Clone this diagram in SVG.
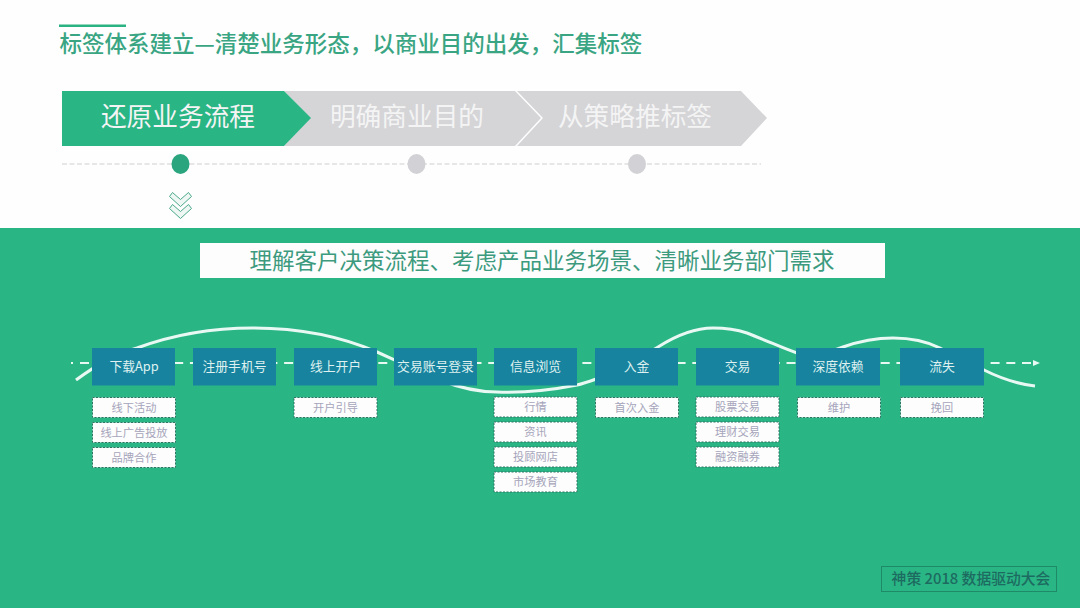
<svg xmlns="http://www.w3.org/2000/svg" width="1080" height="608" viewBox="0 0 1080 608">
<style>
text{font-family:"Noto Sans CJK SC","Noto Sans",sans-serif;text-anchor:middle}
.n rect{fill:#17839f}
.n text{fill:#dff1f0;font-size:12.8px}
.s rect{fill:#fdfdfd;stroke:#2f7362;stroke-width:1;stroke-dasharray:2 1.5}
.s text{fill:#a6a5bb;font-size:11.2px}
.step{font-size:25.7px;fill:#f4f4f4}
.curve{fill:none;stroke:#e8f8f3;stroke-width:3}
.chev{fill:#eef7f3;stroke:#4ba98c;stroke-width:1}
</style>
<rect width="1080" height="608" fill="#fefefe"/>
<rect y="228" width="1080" height="380" fill="#2ab585"/>
<g id="title">
<rect x="59" y="24.500" width="67" height="2.500" fill="#2bb282"/>
<text x="351" y="52" style="font-size:22.5px;fill:#3aa583;font-weight:500">标签体系建立—清楚业务形态，以商业目的出发，汇集标签</text>
</g>
<g id="step3"><polygon points="517,91 741,91 767,118 741,146 517,146 543,118" fill="#d5d5d8"/><text class="step" x="635" y="126">从策略推标签</text></g>
<g id="step2"><polygon points="284,91 515,91 541,118 515,146 284,146 310,118" fill="#d5d5d8"/><text class="step" x="407" y="126">明确商业目的</text></g>
<g id="step1"><polygon points="62,91 284,91 311,118 284,146 62,146" fill="#2ab585"/><text class="step" x="178" y="126">还原业务流程</text></g>
<g id="timeline">
<line x1="62" y1="164" x2="761" y2="164" stroke="#cfcfd2" stroke-width="1" stroke-dasharray="5 2.500"/>
<ellipse cx="180.500" cy="164" rx="9" ry="10" fill="#2ba57d"/>
<ellipse cx="416.500" cy="164" rx="9" ry="10" fill="#d2d2d6"/>
<ellipse cx="637" cy="164" rx="9" ry="10" fill="#d2d2d6"/>
<polygon class="chev" points="169.500,196.500 172.500,192.500 180.500,199.500 188.500,192.500 191.500,196.500 180.500,206.500"/>
<polygon class="chev" points="169.500,208.500 172.500,204.500 180.500,211.500 188.500,204.500 191.500,208.500 180.500,218.500"/>
</g>
<g id="banner">
<rect x="200" y="243" width="685" height="35" fill="#fdfdfd"/>
<text x="542" y="269" style="font-size:22.5px;fill:#3c9a7e">理解客户决策流程、考虑产品业务场景、清晰业务部门需求</text>
</g>
<g id="connectors">
<path class="curve" d="M76 380C95 366 115 354 137 348C175 334 215 328 253 328C300 328 340 336 377 352L410 367"/>
<path class="curve" d="M440 380C460 388 480 392 497 392C525 393 552 390 577 385C590 382 605 376 625 368C640 360 645 354 658 347C680 333 698 328 713 328C728 328 738 330 747 333C770 342 785 349 797 353C815 357 830 352 843 347C860 341 875 338 893 338C915 338 928 342 940 348C955 356 970 364 984 370C1000 378 1018 384 1035 386"/>
<line x1="71" y1="363" x2="73" y2="363" stroke="#e8f8f3" stroke-width="2"/>
<line x1="80" y1="363" x2="1034" y2="363" stroke="#e8f8f3" stroke-width="2" stroke-dasharray="9 6.700"/>
<path d="M1033 360L1040 363L1033 366Z" fill="#e8f8f3"/>
</g>
<g class="n" id="node1"><rect x="92" y="348" width="83" height="37.500"/><text x="134" y="371">下载App</text></g>
<g class="n" id="node2"><rect x="193" y="348" width="83" height="37.500"/><text x="234.500" y="371">注册手机号</text></g>
<g class="n" id="node3"><rect x="294" y="348" width="83" height="37.500"/><text x="335.500" y="371">线上开户</text></g>
<g class="n" id="node4"><rect x="394" y="348" width="83" height="37.500"/><text x="435.500" y="371">交易账号登录</text></g>
<g class="n" id="node5"><rect x="494" y="348" width="83" height="37.500"/><text x="535.500" y="371">信息浏览</text></g>
<g class="n" id="node6"><rect x="595" y="348" width="83" height="37.500"/><text x="636.500" y="371">入金</text></g>
<g class="n" id="node7"><rect x="696" y="348" width="83" height="37.500"/><text x="737.500" y="371">交易</text></g>
<g class="n" id="node8"><rect x="796" y="348" width="84" height="37.500"/><text x="838" y="371">深度依赖</text></g>
<g class="n" id="node9"><rect x="900" y="348" width="84" height="37.500"/><text x="942" y="371">流失</text></g>
<g class="s" id="sub1"><rect x="92.500" y="397.500" width="83" height="20"/><text x="134" y="411.500">线下活动</text></g>
<g class="s" id="sub2"><rect x="92.500" y="422.500" width="83" height="20"/><text x="134" y="436.500">线上广告投放</text></g>
<g class="s" id="sub3"><rect x="92.500" y="447.500" width="83" height="20"/><text x="134" y="461.500">品牌合作</text></g>
<g class="s" id="sub4"><rect x="294" y="397.500" width="83" height="20"/><text x="335.500" y="411.500">开户引导</text></g>
<g class="s" id="sub5"><rect x="494" y="397" width="83" height="20"/><text x="535.500" y="411">行情</text></g>
<g class="s" id="sub6"><rect x="494" y="422" width="83" height="20"/><text x="535.500" y="436">资讯</text></g>
<g class="s" id="sub7"><rect x="494" y="447" width="83" height="20"/><text x="535.500" y="461">投顾网店</text></g>
<g class="s" id="sub8"><rect x="494" y="472" width="83" height="20"/><text x="535.500" y="486">市场教育</text></g>
<g class="s" id="sub9"><rect x="595.500" y="397.500" width="83" height="20"/><text x="637" y="411.500">首次入金</text></g>
<g class="s" id="sub10"><rect x="696" y="397" width="83" height="20"/><text x="737.500" y="411">股票交易</text></g>
<g class="s" id="sub11"><rect x="696" y="422" width="83" height="20"/><text x="737.500" y="436">理财交易</text></g>
<g class="s" id="sub12"><rect x="696" y="447" width="83" height="20"/><text x="737.500" y="461">融资融券</text></g>
<g class="s" id="sub13"><rect x="797.500" y="397.500" width="83" height="20"/><text x="839" y="411.500">维护</text></g>
<g class="s" id="sub14"><rect x="900.500" y="397.500" width="83" height="20"/><text x="942" y="411.500">挽回</text></g>
<g id="badge">
<rect x="881.500" y="566.500" width="175" height="25" fill="none" stroke="#1f8a68" stroke-width="1"/>
<text x="971" y="584" style="font-size:14.800px;fill:#1d6b60;font-weight:500">神策 2018 数据驱动大会</text>
</g>
</svg>
